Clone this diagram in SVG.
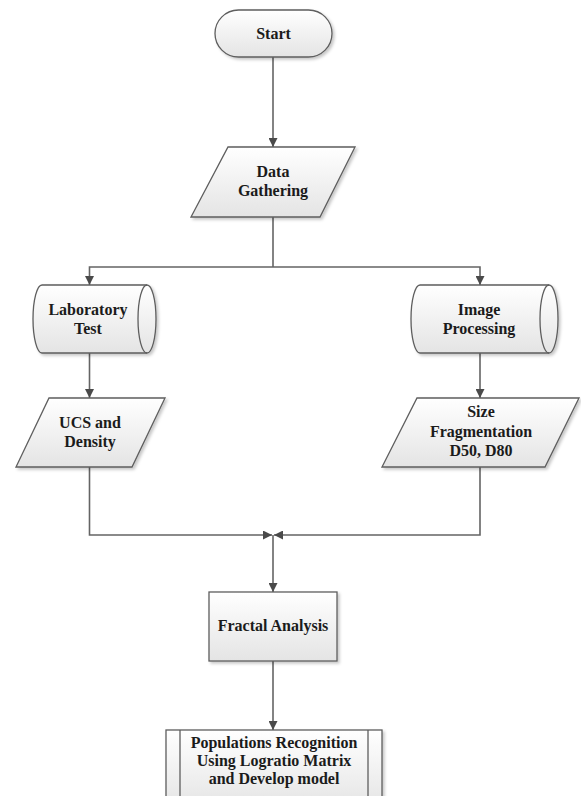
<svg xmlns="http://www.w3.org/2000/svg" width="581" height="796" viewBox="0 0 581 796">
<style>
.shape{fill:url(#g);stroke:#5e5e5e;stroke-width:1.3;filter:url(#sh)}
.line{fill:none;stroke:#5e5e5e;stroke-width:1.3}
.conn{fill:none;stroke:#646464;stroke-width:1.6}
.arr{marker-end:url(#ah)}
text{font-family:"Liberation Serif","Times New Roman",serif;font-weight:bold;font-size:16px;fill:#1b1b1b;text-anchor:middle}
</style>
<defs>
<linearGradient id="g" x1="0" y1="0" x2="0" y2="1">
<stop offset="0" stop-color="#ffffff"/>
<stop offset="1" stop-color="#e4e4e4"/>
</linearGradient>
<filter id="sh" x="-10%" y="-10%" width="125%" height="130%">
<feDropShadow dx="2" dy="2" stdDeviation="1.5" flood-color="#000" flood-opacity="0.22"/>
</filter>
<marker id="ah" markerUnits="userSpaceOnUse" markerWidth="9" markerHeight="9" viewBox="0 0 10 10" refX="10" refY="5" orient="auto">
<path d="M0,0 L10,5 L0,10 z" fill="#4a4a4a"/>
</marker>
</defs>
<rect width="581" height="796" fill="#ffffff"/>
<g id="connectors">
<path class="conn arr" d="M273,57 V147"/>
<path class="conn" d="M273,217 V267"/>
<path class="conn arr" d="M273,267 H89.5 V285"/>
<path class="conn arr" d="M273,267 H480 V285"/>
<path class="conn arr" d="M89.5,353 V398"/>
<path class="conn arr" d="M480,353 V398"/>
<path class="conn arr" d="M89.5,467 V535 H272"/>
<path class="conn arr" d="M480,467 V535 H274"/>
<path class="conn arr" d="M273,535 V592"/>
<path class="conn arr" d="M273,661 V730"/>
</g>
<g id="start">
<rect class="shape" x="215" y="10" width="117" height="47" rx="23.5"/>
<text x="273.5" y="39">Start</text>
</g>
<g id="data-gathering">
<polygon class="shape" points="228,147 355,147 320,217 191,217"/>
<text x="273" y="177">Data</text>
<text x="273" y="196">Gathering</text>
</g>
<g id="laboratory-test">
<path class="shape" d="M42,285 L147,285 A9,34 0 0 1 147,353 L42,353 A9,34 0 0 1 42,285 Z"/>
<path class="line" d="M147,285 A9,34 0 0 0 147,353"/>
<text x="88" y="315">Laboratory</text>
<text x="88" y="334">Test</text>
</g>
<g id="image-processing">
<path class="shape" d="M420,285 L549,285 A9,34 0 0 1 549,353 L420,353 A9,34 0 0 1 420,285 Z"/>
<path class="line" d="M549,285 A9,34 0 0 0 549,353"/>
<text x="479" y="315">Image</text>
<text x="479" y="334">Processing</text>
</g>
<g id="ucs-density">
<polygon class="shape" points="49,398 165,398 132,467 16,467"/>
<text x="90" y="428">UCS and</text>
<text x="90" y="447">Density</text>
</g>
<g id="size-fragmentation">
<polygon class="shape" points="417,398 579,398 545,467 382,467"/>
<text x="481" y="417">Size</text>
<text x="481" y="437">Fragmentation</text>
<text x="481" y="456">D50, D80</text>
</g>
<g id="fractal-analysis">
<rect class="shape" x="209" y="592" width="128" height="69"/>
<text x="273" y="631">Fractal Analysis</text>
</g>
<g id="populations-recognition">
<rect class="shape" x="166" y="730" width="216" height="80"/>
<line class="line" x1="180" y1="730" x2="180" y2="800"/>
<line class="line" x1="368" y1="730" x2="368" y2="800"/>
<text x="274" y="748">Populations Recognition</text>
<text x="274" y="766">Using Logratio Matrix</text>
<text x="274" y="784">and Develop model</text>
</g>
</svg>
